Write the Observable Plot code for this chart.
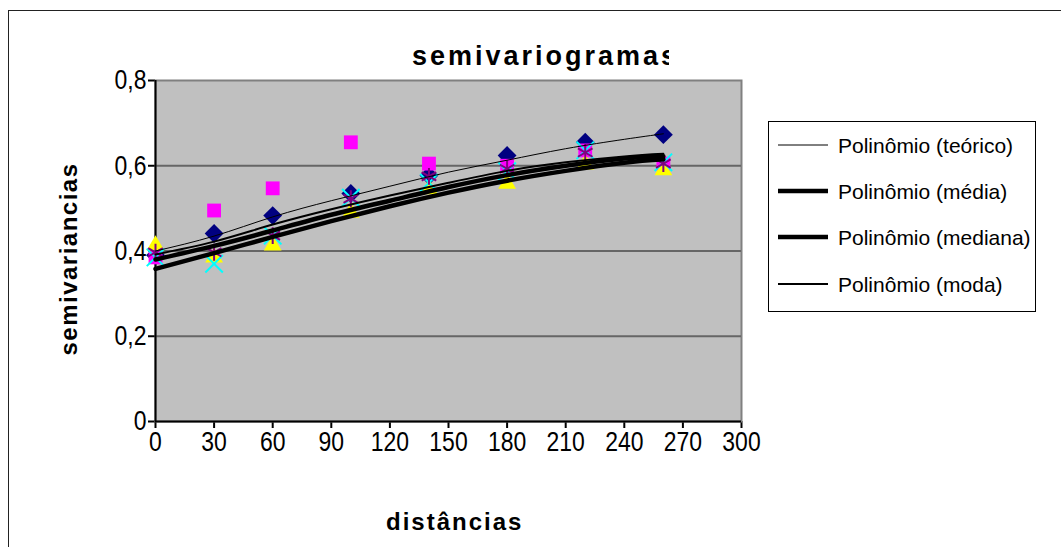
<!DOCTYPE html>
<html>
<head>
<meta charset="utf-8">
<script src="https://cdn.jsdelivr.net/npm/d3@7"></script>
<script src="https://cdn.jsdelivr.net/npm/@observablehq/plot@0.6"></script>
<style>
  body { margin: 0; background: #fff; overflow: hidden; font-family: "Liberation Sans", Arial, sans-serif; }
  #wrap { position: relative; width: 1061px; height: 547px; overflow: hidden; background: #fff; }
  #border { position: absolute; left: 8px; top: 10px; width: 2000px; height: 2000px; border-left: 1px solid #222; border-top: 1px solid #222; }
  #chart { position: absolute; left: 0; top: 0; }
  #overlay { position: absolute; left: 0; top: 0; pointer-events: none; }
  #chart svg [aria-label$="tick"] { stroke-width: 2; }
</style>
</head>
<body>
<div id="wrap">
  <div id="border"></div>
  <div id="chart"></div>
  <svg id="overlay" width="1061" height="547"></svg>
</div>
<script>
// ---- data ----
const distances = [0, 30, 60, 100, 140, 180, 220, 260];
const serie1 = [0.390, 0.441, 0.483, 0.535, 0.577, 0.624, 0.655, 0.673]; // navy diamonds
const serie2 = [0.385, 0.495, 0.547, 0.655, 0.605, 0.600, 0.636, 0.605]; // magenta squares
const serie3 = [0.413, 0.385, 0.413, 0.490, 0.545, 0.558, 0.603, 0.590]; // yellow triangles
const serie4 = [0.385, 0.370, 0.436, 0.525, 0.560, 0.587, 0.636, 0.608]; // cyan crosses
const serie5 = [0.397, 0.397, 0.436, 0.523, 0.575, 0.593, 0.631, 0.605]; // purple stars

const trendX   = [0, 30, 60, 90, 120, 150, 180, 210, 240, 260];
const teorico  = [0.400, 0.435, 0.480, 0.518, 0.552, 0.585, 0.613, 0.640, 0.662, 0.675];
const media    = [0.380, 0.412, 0.448, 0.485, 0.518, 0.550, 0.578, 0.600, 0.617, 0.622];
const mediana  = [0.358, 0.395, 0.433, 0.470, 0.505, 0.537, 0.565, 0.588, 0.607, 0.615];
const moda     = [0.392, 0.422, 0.462, 0.498, 0.530, 0.560, 0.588, 0.608, 0.622, 0.628];

const xTicks = [0, 30, 60, 90, 120, 150, 180, 210, 240, 270, 300];
const yTicks = [0, 0.2, 0.4, 0.6, 0.8];
const gridValues = [0.2, 0.4, 0.6];

const titleText = "semivariogramas";
const xLabel = "distâncias";
const yLabel = "semivariancias";
const legendNames = ["Polinômio (teórico)", "Polinômio (média)", "Polinômio (mediana)", "Polinômio (moda)"];

// ---- tables built from the arrays ----
const points = distances.map((d, i) => ({d, s1: serie1[i], s2: serie2[i], s3: serie3[i], s4: serie4[i], s5: serie5[i]}));
const trend = trendX.map((x, i) => ({x, teorico: teorico[i], media: media[i], mediana: mediana[i], moda: moda[i]}));

const plot = Plot.plot({
  width: 1061,
  height: 547,
  marginLeft: 155,
  marginRight: 320,
  marginTop: 80,
  marginBottom: 126,
  style: {background: "transparent", fontFamily: "'Liberation Sans', Arial, sans-serif", fontSize: "28px", color: "#000", overflow: "visible"},
  x: {domain: [0, 300], ticks: xTicks, tickSize: 7, tickPadding: 3, label: null},
  y: {domain: [0, 0.8], ticks: yTicks, tickSize: 7, tickPadding: 2, label: null,
      tickFormat: d => d === 0 ? "0" : d3.format(".1f")(d).replace(".", ",")},
  marks: [
    Plot.frame({fill: "#c0c0c0", stroke: "#808080", strokeWidth: 2}),
    Plot.ruleY(gridValues, {stroke: "#666666", strokeWidth: 2}),
    Plot.ruleX([0], {stroke: "#000", strokeWidth: 2}),
    Plot.ruleY([0], {stroke: "#000", strokeWidth: 2}),
    Plot.dot(points, {x: "d", y: "s1", symbol: "diamond2", fill: "#000080", r: 8.5}),
    Plot.dot(points, {x: "d", y: "s2", symbol: "square", fill: "#ff00ff", r: 7.8}),
    Plot.dot(points, {x: "d", y: "s3", symbol: "triangle", fill: "#ffff00", r: 6.6}),
    Plot.dot(points, {x: "d", y: "s4", symbol: "times", stroke: "#00ffff", fill: "none", strokeWidth: 2, r: 8}),
    Plot.dot(points, {x: "d", y: "s5", symbol: "asterisk", stroke: "#800080", fill: "none", strokeWidth: 2, r: 8}),
    Plot.line(trend, {x: "x", y: "teorico", stroke: "#000", strokeWidth: 1, curve: "natural"}),
    Plot.line(trend, {x: "x", y: "moda", stroke: "#000", strokeWidth: 2, curve: "natural"}),
    Plot.line(trend, {x: "x", y: "media", stroke: "#000", strokeWidth: 4.5, curve: "natural"}),
    Plot.line(trend, {x: "x", y: "mediana", stroke: "#000", strokeWidth: 4.5, curve: "natural"})
  ]
});
document.getElementById("chart").appendChild(plot);

// condense the tick labels, like the original rendering
d3.select(plot).selectAll('[aria-label$="tick label"] text').each(function() {
  const t = this.getAttribute("transform");
  if (t) this.setAttribute("transform", t + " scale(0.82,1)");
  else {
    const x = +this.getAttribute("x") || 0;
    this.setAttribute("x", 0);
    this.setAttribute("transform", `translate(${x},0) scale(0.82,1)`);
  }
});

// ---- titles and legend ----
const ov = d3.select("#overlay");
const defs = ov.append("defs");
defs.append("clipPath").attr("id", "titleClip").append("rect").attr("x", 0).attr("y", 0).attr("width", 669).attr("height", 547);
defs.append("clipPath").attr("id", "xlabClip").append("rect").attr("x", 0).attr("y", 0).attr("width", 521).attr("height", 547);

ov.append("text").text(titleText)
  .attr("x", 412).attr("y", 65)
  .attr("clip-path", "url(#titleClip)")
  .style("font", "bold 27px 'Liberation Sans', Arial, sans-serif")
  .style("letter-spacing", "3px");

ov.append("text").text(xLabel)
  .attr("x", 386).attr("y", 530)
  .attr("clip-path", "url(#xlabClip)")
  .style("font", "bold 24px 'Liberation Sans', Arial, sans-serif")
  .style("letter-spacing", "2px");

ov.append("text").text(yLabel)
  .attr("transform", "translate(77,259) rotate(-90)")
  .attr("text-anchor", "middle")
  .style("font", "bold 24px 'Liberation Sans', Arial, sans-serif")
  .style("letter-spacing", "1.5px");

const lg = ov.append("g");
lg.append("rect").attr("x", 768.5).attr("y", 121.5).attr("width", 267).attr("height", 190)
  .attr("fill", "#fff").attr("stroke", "#000").attr("stroke-width", 1);
const legendWidths = [1, 4.5, 4.5, 2];
const legendY = [145, 191, 237, 284];
legendNames.forEach((name, i) => {
  lg.append("line").attr("x1", 778).attr("x2", 828).attr("y1", legendY[i]).attr("y2", legendY[i])
    .attr("stroke", "#000").attr("stroke-width", legendWidths[i]);
  lg.append("text").text(name).attr("x", 838).attr("y", legendY[i] + 7.5)
    .style("font", "21px 'Liberation Sans', Arial, sans-serif");
});
</script>
</body>
</html>
